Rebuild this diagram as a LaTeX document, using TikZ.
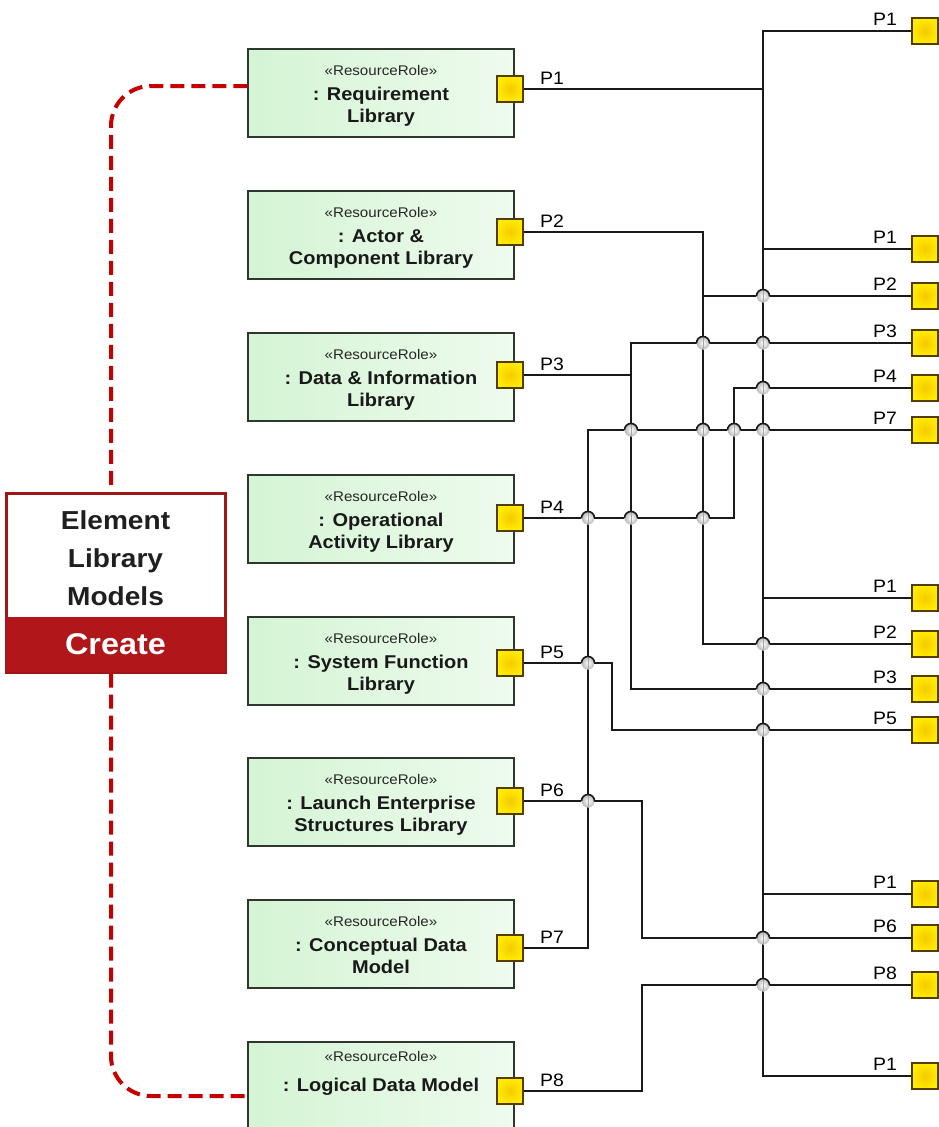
\documentclass[tikz,border=0pt]{standalone}
\usepackage{fontspec}
\setmainfont{Liberation Sans}[FakeStretch=1.08]

\definecolor{libfillA}{RGB}{212,244,212}
\definecolor{libfillB}{RGB}{238,251,238}
\definecolor{libedge}{RGB}{45,55,45}
\definecolor{portA}{RGB}{255,236,0}
\definecolor{portB}{RGB}{246,202,0}
\definecolor{portedge}{RGB}{85,60,0}
\definecolor{elmred}{RGB}{158,22,22}
\definecolor{createred}{RGB}{176,22,26}
\definecolor{dashred}{RGB}{196,0,0}
\definecolor{wirec}{RGB}{25,25,25}

\tikzset{
  libbox/.style={draw=libedge, line width=1.5pt, left color=libfillA, right color=libfillB,
    minimum width=266pt, minimum height=88pt, inner sep=0pt},
  stereo/.style={anchor=base, inner sep=0pt, font=\fontsize{14}{16}\selectfont, text=black!85},
  rolename/.style={anchor=base, inner sep=0pt, font=\fontsize{18.5}{22}\selectfont\bfseries, text=black!90},
  port/.style={draw=portedge, line width=1.2pt, inner color=portB, outer color=portA,
    minimum size=26pt, inner sep=0pt},
  plabel/.style={anchor=base, inner sep=0pt, font=\fontsize{18}{20}\selectfont},
  wire/.style={line width=1.6pt, draw=wirec},
  reddash/.style={line width=4pt, draw=dashred, dash pattern=on 14pt off 7pt, rounded corners=40pt},
  elmbox/.style={draw=elmred, line width=3pt, fill=white, minimum width=219pt, minimum height=179pt, inner sep=0pt},
  createbar/.style={fill=createred, minimum width=219pt, minimum height=55pt, inner sep=0pt,
    text=white, font=\fontsize{30}{32}\selectfont\bfseries},
}

% role box: name, top edge, first and second name line
\newcommand\rolebox[4]{%
  \node[libbox] (#1) at (381,#2+44) {};
  \node[stereo] (#1-s) at (381,#2+26) {«ResourceRole»};
  \node[rolename] (#1-a) at (381,#2+51) {#3};
  \node[rolename] (#1-b) at (381,#2+73) {#4};
}
% jump-over where a horizontal wire passes a vertical one
\newcommand\hopat[1]{%
  \path (#1) coordinate (hc);
  \shade[inner color=white, outer color=gray!55] (hc) circle[radius=6.5];
  \draw[gray!70, line width=0.8pt] ([yshift=6.5pt]hc) -- ([yshift=-6.5pt]hc);
  \draw[wire] ([xshift=-6.5pt]hc) arc[start angle=180, end angle=360, radius=6.5];
}

\begin{document}
\begin{tikzpicture}[x=1pt,y=-1pt]
\useasboundingbox (0,0) rectangle (939,1127);
\fill[white] (0,0) rectangle (939,1127);

% the element library block
\node[elmbox] (elm) at (115.5,582.5) {};
\node[createbar] (create) at (115.5,644.5) {Create};
\node[align=center, inner sep=0pt, font=\fontsize{26}{38}\selectfont\bfseries, text=black!88]
  (elm-t) at (115.5,558) {Element\\Library\\Models};

% resource roles
\rolebox{b1}{49}{: Requirement}{Library}
\rolebox{b2}{191}{: Actor \&}{Component Library}
\rolebox{b3}{333}{: Data \& Information}{Library}
\rolebox{b4}{475}{: Operational}{Activity Library}
\rolebox{b5}{617}{: System Function}{Library}
\rolebox{b6}{758}{: Launch Enterprise}{Structures Library}
\rolebox{b7}{900}{: Conceptual Data}{Model}
\node[libbox] (b8) at (381,1086) {};
\node[stereo] (b8-s) at (381,1061) {«ResourceRole»};
\node[rolename] (b8-a) at (381,1091) {: Logical Data Model};

% dashed links from the element library block
\draw[reddash] ([yshift=7pt]b1.west) -| ([xshift=-4.5pt]elm.north);
\draw[reddash] ([xshift=-4.5pt]elm.south) |- ([yshift=-10pt]b8.west);

% ports on the roles
\foreach \i/\y in {1/89,2/232,3/375,4/518,5/663,6/801,7/948,8/1091}
  \node[port] (lp\i) at (510,\y) {};
% ports on the right edge
\foreach \i/\y in {1/31,2/249,3/296,4/343,5/388,6/430,7/598,8/644,9/689,10/730,11/894,12/938,13/985,14/1076}
  \node[port] (rp\i) at (925,\y) {};

% x positions of the vertical runs
\coordinate (busx) at (763,0);
\coordinate (x588) at (588,0);
\coordinate (x612) at (612,0);
\coordinate (x631) at (631,0);
\coordinate (x642) at (642,0);
\coordinate (x703) at (703,0);
\coordinate (x734) at (734,0);

% P1 bus
\draw[wire] (rp1.west) -| (rp14.west -| busx) -- (rp14.west);
\draw[wire] (lp1.east) -- (lp1.east -| busx);
\foreach \r in {2,7,11} \draw[wire] (rp\r.west) -- (rp\r.west -| busx);
% P2
\draw[wire] (lp2.east) -| (rp8.west -| x703) -- (rp8.west);
\draw[wire] (rp3.west) -- (rp3.west -| x703);
% P3
\draw[wire] (rp4.west) -| (rp9.west -| x631) -- (rp9.west);
\draw[wire] (lp3.east) -- (lp3.east -| x631);
% P4
\draw[wire] (lp4.east) -| (rp5.west -| x734) -- (rp5.west);
% P7
\draw[wire] (lp7.east) -| (rp6.west -| x588) -- (rp6.west);
% P5
\draw[wire] (lp5.east) -| (rp10.west -| x612) -- (rp10.west);
% P6
\draw[wire] (lp6.east) -| (rp12.west -| x642) -- (rp12.west);
% P8
\draw[wire] (lp8.east) -| (rp13.west -| x642) -- (rp13.west);

% crossings
\hopat{rp3.west -| busx}
\hopat{rp4.west -| x703}
\hopat{rp4.west -| busx}
\hopat{rp5.west -| busx}
\hopat{rp6.west -| x631}
\hopat{rp6.west -| x703}
\hopat{rp6.west -| x734}
\hopat{rp6.west -| busx}
\hopat{lp4.east -| x588}
\hopat{lp4.east -| x631}
\hopat{lp4.east -| x703}
\hopat{rp8.west -| busx}
\hopat{lp5.east -| x588}
\hopat{rp9.west -| busx}
\hopat{rp10.west -| busx}
\hopat{lp6.east -| x588}
\hopat{rp12.west -| busx}
\hopat{rp13.west -| busx}

% redraw ports over wire ends
\foreach \i/\y in {1/89,2/232,3/375,4/518,5/663,6/801,7/948,8/1091}
  \node[port] at (510,\y) {};

% port labels
\foreach \i/\y/\t in {1/89/P1,2/232/P2,3/375/P3,4/518/P4,5/663/P5,6/801/P6,7/948/P7,8/1091/P8}
  \node[plabel] (ll\i) at (552,\y-5) {\t};
\foreach \i/\y/\t in {1/31/P1,2/249/P1,3/296/P2,4/343/P3,5/388/P4,6/430/P7,7/598/P1,8/644/P2,9/689/P3,10/730/P5,11/894/P1,12/938/P6,13/985/P8,14/1076/P1}
  \node[plabel] (rl\i) at (885,\y-6) {\t};
\end{tikzpicture}
\end{document}
